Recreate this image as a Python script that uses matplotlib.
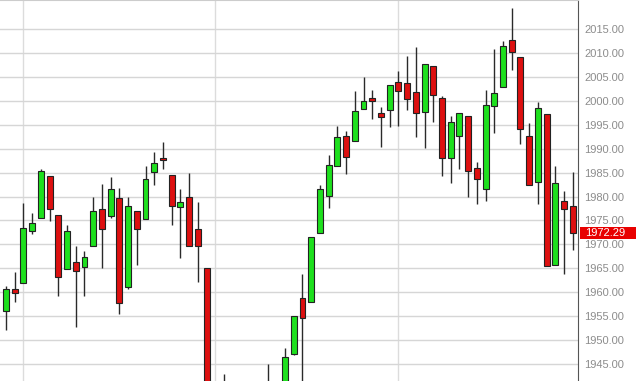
import numpy as np
import matplotlib
matplotlib.use('Agg')
import matplotlib.pyplot as plt
from matplotlib.patches import Rectangle
import matplotlib.transforms as mtransforms

# daily OHLC (candles below the visible range are estimates)
opens = [1956.1, 1960.7, 1961.9, 1972.8, 1975.5, 1984.3, 1976.1, 1964.9, 1966.3, 1965.3,
         1969.7, 1977.4, 1975.9, 1979.7, 1961.1, 1977.0, 1975.3, 1985.1, 1988.0, 1984.5,
         1977.8, 1979.9, 1973.2, 1965.1, 1938.5, 1932.5, 1937.0, 1928.5, 1931.0, 1935.0,
         1933.0, 1939.0, 1937.5, 1947.1, 1958.8, 1958.0, 1972.4, 1980.1, 1986.4, 1992.6,
         1991.6, 1998.3, 2000.6, 1997.5, 1998.1, 2003.9, 2003.7, 2001.8, 1997.7, 2007.3,
         2000.6, 1988.0, 1992.6, 1996.8, 1986.0, 1981.6, 1998.9, 2002.9, 2012.7, 2009.2,
         1992.6, 1983.0, 1997.2, 1965.7, 1979.1, 1978.0]
highs = [1961.3, 1964.2, 1978.6, 1976.6, 1985.8, 1984.3, 1976.1, 1974.1, 1969.7, 1968.6,
         1979.9, 1982.6, 1984.1, 1981.8, 1979.9, 1977.0, 1986.4, 1989.3, 1991.4, 1984.5,
         1981.6, 1984.9, 1978.9, 1965.1, 1940.0, 1942.9, 1939.5, 1934.0, 1938.0, 1940.5,
         1945.0, 1940.8, 1948.4, 1955.0, 1963.8, 1971.6, 1982.4, 1988.7, 1994.7, 1993.7,
         2002.0, 2005.0, 2002.3, 1998.7, 2003.3, 2006.2, 2009.4, 2011.2, 2007.7, 2007.3,
         2001.0, 1996.8, 1997.5, 1996.8, 1987.2, 2002.3, 2010.8, 2012.5, 2019.4, 2009.2,
         1995.4, 1999.7, 1997.2, 1986.4, 1981.2, 1985.1]
lows = [1952.1, 1958.0, 1961.9, 1972.2, 1975.5, 1974.9, 1959.2, 1964.9, 1952.7, 1959.2,
        1969.7, 1965.1, 1975.5, 1955.4, 1960.7, 1965.7, 1975.3, 1982.4, 1985.8, 1974.1,
        1967.2, 1969.7, 1962.1, 1936.0, 1930.0, 1929.0, 1926.0, 1922.0, 1927.0, 1930.0,
        1931.0, 1934.0, 1936.0, 1946.8, 1939.0, 1957.9, 1972.4, 1977.6, 1986.4, 1984.7,
        1991.6, 1998.3, 1996.2, 1990.3, 1994.5, 1994.7, 1998.1, 1992.4, 1990.1, 1995.6,
        1984.3, 1982.8, 1985.8, 1979.9, 1978.4, 1979.1, 1993.3, 2002.9, 2006.4, 1991.0,
        1982.4, 1978.4, 1965.5, 1965.7, 1963.8, 1968.8]
closes = [1960.7, 1959.8, 1973.4, 1974.5, 1985.3, 1977.4, 1963.2, 1972.8, 1964.4, 1967.4,
          1977.0, 1973.2, 1981.6, 1957.8, 1978.0, 1973.2, 1983.7, 1987.0, 1987.6, 1978.0,
          1978.9, 1969.7, 1969.7, 1938.0, 1933.0, 1937.0, 1928.0, 1931.0, 1935.5, 1933.0,
          1939.0, 1937.0, 1946.5, 1955.0, 1954.6, 1971.5, 1981.6, 1986.6, 1992.4, 1988.3,
          1997.9, 2000.0, 2000.0, 1996.6, 2003.3, 2002.0, 2000.4, 1997.5, 2007.7, 2001.2,
          1988.0, 1995.6, 1997.5, 1985.3, 1983.7, 1999.1, 2001.6, 2011.5, 2010.2, 1994.1,
          1982.4, 1998.5, 1965.5, 1982.8, 1977.4, 1972.29]
month_starts = [2, 24, 45]
last_price = 1972.29
y_ticks = list(range(1945, 2020, 5))

o = np.array(opens)
h = np.array(highs)
l = np.array(lows)
c = np.array(closes)
idx = np.arange(len(o))

fig = plt.figure(figsize=(6.37, 3.81), dpi=100)
ax = fig.add_axes([0, 0, 578 / 637, 1])

up = c >= o
colors = np.where(up, '#1ee01e', '#dd1010')
body_lo = np.minimum(o, c)
body_h = np.maximum(np.abs(c - o), 0.35)

ax.vlines(idx, l, h, color='#2a2a2a', linewidth=1.0, zorder=2)
ax.bar(idx, body_h, bottom=body_lo, width=0.68, color=colors,
       edgecolor='#222222', linewidth=0.8, zorder=3)

for m in month_starts:
    ax.axvline(m, color='#dcdcdc', linewidth=1.0, zorder=0)
ax.set_yticks(y_ticks)
ax.yaxis.grid(True, color='#d6d6d6', linewidth=1.0, zorder=0)
ax.set_axisbelow(True)

ax.set_xlim(-0.69, 65.6)
ax.set_ylim(1941.45, 2021.06)

ax.yaxis.tick_right()
ax.set_yticklabels(['%.2f' % v for v in y_ticks], fontsize=8, color='#8c8c8c',
                   family='Liberation Sans')
ax.tick_params(axis='y', length=0, pad=4.5)
ax.set_xticks([])

for s in ['left', 'bottom']:
    ax.spines[s].set_visible(False)
ax.spines['top'].set_color('#cccccc')
ax.spines['right'].set_color('#555555')

# last price marker on the axis
trans = mtransforms.blended_transform_factory(ax.transAxes, ax.transData)
ax.add_patch(Rectangle((1.003, last_price - 1.25), 0.097, 2.5, transform=trans,
                       facecolor='#e80000', edgecolor='none', clip_on=False, zorder=5))
ax.text(1.012, last_price, '%.2f' % last_price, transform=trans, color='white',
        fontsize=8, family='Liberation Sans', va='center', ha='left', zorder=6)

fig.savefig('out.png', dpi=100)
